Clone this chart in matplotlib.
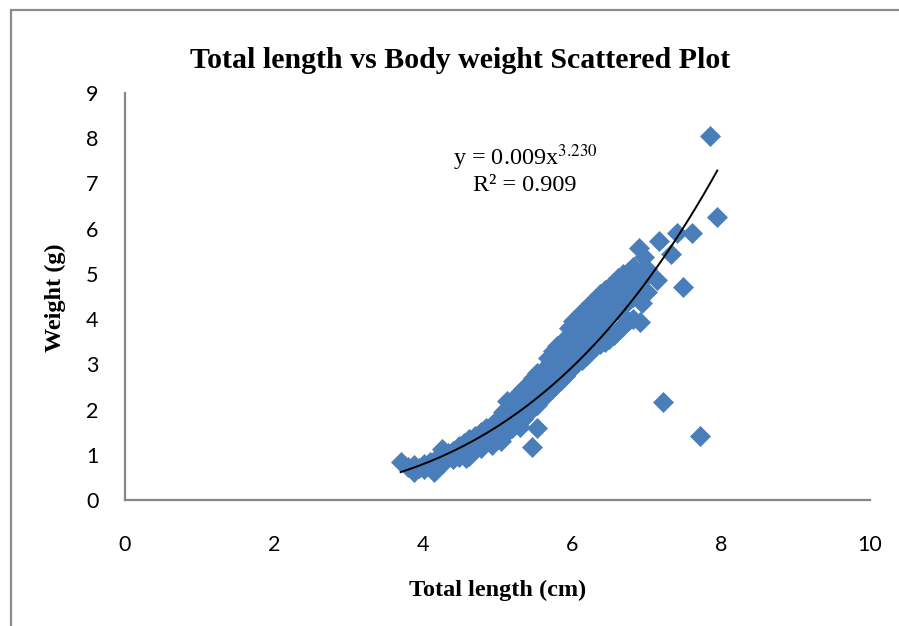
import numpy as np
import matplotlib
matplotlib.use("Agg")
import matplotlib.pyplot as plt
from matplotlib.patches import Rectangle

# ---- data ----
length_cm = [
    3.70, 3.80, 3.88, 3.88, 3.95, 4.02, 4.02, 4.10, 4.10, 4.18, 4.18,
    4.25, 4.25, 4.25, 4.33, 4.33, 4.40, 4.40, 4.48, 4.48, 4.48,
    4.55, 4.55, 4.62, 4.62, 4.62, 4.70, 4.70, 4.78, 4.78, 4.78,
    4.85, 4.85, 4.92, 4.92, 4.92, 5.00, 5.00, 5.00, 5.07, 5.07, 5.07,
    5.13, 5.13, 5.13, 5.20, 5.20, 5.20, 5.27, 5.27, 5.27, 5.34, 5.34, 5.34,
    5.40, 5.40, 5.40, 5.47, 5.47, 5.47, 5.53, 5.53, 5.53, 5.60, 5.60, 5.60,
    5.66, 5.66, 5.66, 5.72, 5.72, 5.72, 5.78, 5.78, 5.78, 5.85, 5.85, 5.85,
    5.90, 5.90, 5.90, 5.96, 5.96, 5.96, 5.96, 6.02, 6.02, 6.02, 6.02,
    6.08, 6.08, 6.08, 6.08, 6.14, 6.14, 6.14, 6.14, 6.20, 6.20, 6.20, 6.20,
    6.26, 6.26, 6.26, 6.26, 6.32, 6.32, 6.32, 6.32, 6.38, 6.38, 6.38, 6.38,
    6.44, 6.44, 6.44, 6.44, 6.50, 6.50, 6.50, 6.50, 6.56, 6.56, 6.56, 6.56,
    6.62, 6.62, 6.62, 6.62, 6.68, 6.68, 6.68, 6.68, 6.75, 6.75, 6.75, 6.75,
    6.82, 6.82, 6.82, 6.82, 6.90, 6.87, 6.91, 6.91, 6.94, 6.97, 6.98, 7.00, 7.00,
    5.68, 5.75, 5.80, 5.86, 4.15, 4.58, 5.05, 5.30,
    7.14, 7.17, 7.33, 7.41, 7.49, 7.61, 7.85, 7.95, 7.22, 7.72, 5.46, 5.53,
]
weight_g = [
    0.84, 0.72, 0.62, 0.78, 0.70, 0.80, 0.68, 0.85, 0.74, 0.90, 0.78,
    1.13, 0.88, 0.80, 0.95, 1.05, 0.90, 1.08, 1.20, 1.00, 0.95,
    1.05, 1.25, 1.10, 1.35, 0.98, 1.20, 1.42, 1.50, 1.25, 1.15,
    1.30, 1.60, 1.40, 1.65, 1.22, 1.50, 1.80, 1.35, 1.60, 1.95, 1.45,
    2.20, 1.70, 1.50, 1.85, 2.10, 1.60, 2.00, 2.35, 1.72, 2.10, 2.45, 1.80,
    2.20, 2.55, 1.90, 2.30, 2.70, 2.05, 2.45, 2.80, 2.10, 2.55, 2.85, 2.25,
    2.65, 2.95, 2.35, 2.75, 3.05, 2.45, 2.85, 3.15, 2.55, 3.00, 3.25, 2.65,
    3.55, 3.10, 2.75, 3.80, 3.45, 3.15, 2.85, 3.95, 3.60, 3.25, 2.95,
    4.05, 3.75, 3.35, 3.05, 4.15, 3.85, 3.50, 3.10, 4.25, 3.95, 3.60, 3.20,
    4.35, 4.05, 3.70, 3.30, 4.45, 4.15, 3.80, 3.40, 4.55, 4.20, 3.85, 3.45,
    4.65, 4.30, 3.95, 3.50, 4.70, 4.40, 4.05, 3.55, 4.80, 4.50, 4.15, 3.65,
    4.90, 4.55, 4.20, 3.75, 5.00, 4.65, 4.30, 3.85, 5.05, 4.75, 4.40, 3.95,
    5.15, 4.85, 4.50, 4.00, 5.58, 4.71, 5.02, 3.94, 4.36, 5.38, 4.93, 4.60, 5.10,
    3.15, 3.30, 3.40, 3.50, 0.62, 0.92, 1.30, 1.62,
    4.87, 5.73, 5.45, 5.90, 4.71, 5.91, 8.05, 6.26, 2.17, 1.42, 1.17, 1.59,
]

# power trendline shown on the chart: y = a * x^b
fit_a = 0.009
fit_b = 3.230
fit_r2 = 0.909

x_ticks = [0, 2, 4, 6, 8, 10]
y_ticks = [0, 1, 2, 3, 4, 5, 6, 7, 8, 9]

title = "Total length vs Body weight Scattered Plot"
xlabel = "Total length (cm)"
ylabel = "Weight (g)"

# ---- figure ----
W, H = 899, 626
fig = plt.figure(figsize=(W / 100, H / 100), dpi=100)
fig.patch.set_facecolor("white")
plt.rcParams["mathtext.fontset"] = "stix"

# outer chart frame (extends past right/bottom edge)
fig.patches.append(Rectangle((11 / W, -0.05), 1.2, (H - 10) / H + 0.05,
                             transform=fig.transFigure, fill=False,
                             edgecolor="#8c8c8c", linewidth=1.6, zorder=0))

ax = fig.add_axes([125 / W, 1 - 500 / H, (870 - 125) / W, (500 - 93) / H])
ax.set_xlim(0, 10)
ax.set_ylim(0, 9)

ax.plot(length_cm, weight_g, linestyle="none", marker="D", markersize=9.8,
        markerfacecolor="#4a7ebb", markeredgecolor="#4a7ebb",
        markeredgewidth=0.5, zorder=2)

xf = np.linspace(min(length_cm), max(length_cm), 200)
ax.plot(xf, fit_a * xf ** fit_b, color="black", linewidth=1.4, zorder=3)

for s in ["top", "right"]:
    ax.spines[s].set_visible(False)
for s in ["left", "bottom"]:
    ax.spines[s].set_color("#868686")
    ax.spines[s].set_linewidth(1.6)

ax.set_xticks(x_ticks)
ax.set_yticks(y_ticks)
ax.tick_params(length=0, labelsize=15.5)
ax.tick_params(axis="x", pad=25)
ax.tick_params(axis="y", pad=19)
for lab in ax.get_xticklabels() + ax.get_yticklabels():
    lab.set_family(["Lato", "DejaVu Sans"])

serif = ["Liberation Serif", "DejaVu Serif"]
fig.text(460 / W, 1 - 61 / H, title, ha="center", va="center",
         fontsize=21.5, fontweight="bold", family=serif)
fig.text(498 / W, 1 - 590 / H, xlabel, ha="center", va="center",
         fontsize=17.5, fontweight="bold", family=serif)
fig.text(55 / W, 1 - 298 / H, ylabel, ha="center", va="center",
         fontsize=17.5, fontweight="bold", family=serif, rotation=90)

ax.text(5.37, 7.57, f"y = {fit_a:.3f}x$^{{{fit_b:.3f}}}$",
        ha="center", va="center", fontsize=17.5, family=serif)
ax.text(5.37, 6.95, f"R² = {fit_r2:.3f}", ha="center", va="center",
        fontsize=17.5, family=serif)

fig.savefig("out.png", dpi=100, facecolor="white")
